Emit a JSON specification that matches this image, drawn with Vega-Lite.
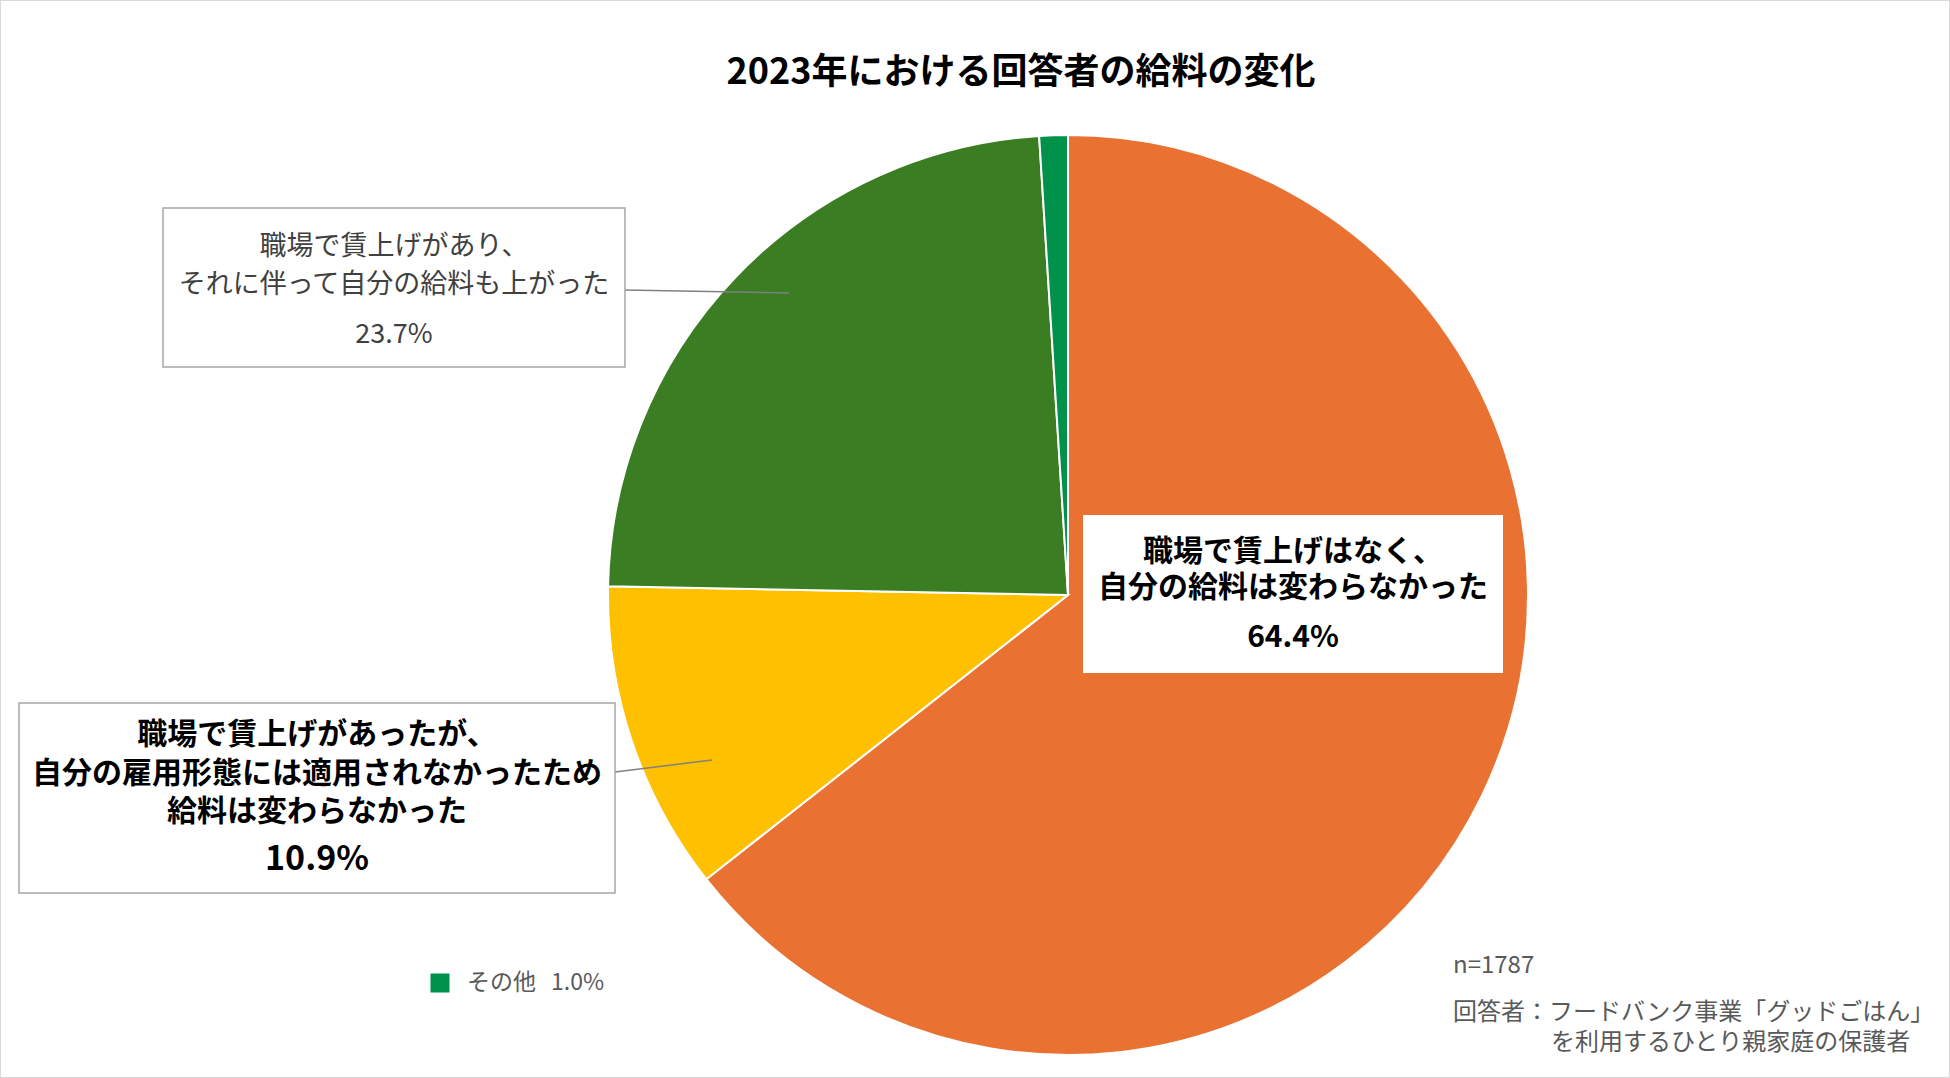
{
  "$schema": "https://vega.github.io/schema/vega-lite/v6.json",
  "width": 1950,
  "height": 1078,
  "autosize": {"type": "none"},
  "padding": 0,
  "background": "white",
  "config": {
    "view": {"stroke": "#d9d9d9", "strokeWidth": 2},
    "text": {"font": "Noto Sans CJK JP", "baseline": "middle"}
  },
  "data": {
    "values": [
      {"answer": "職場で賃上げはなく、\n自分の給料は変わらなかった", "share": 0.644, "order": 1},
      {"answer": "職場で賃上げがあったが、\n自分の雇用形態には適用されなかったため\n給料は変わらなかった", "share": 0.109, "order": 2},
      {"answer": "職場で賃上げがあり、\nそれに伴って自分の給料も上がった", "share": 0.237, "order": 3},
      {"answer": "その他", "share": 0.010, "order": 4}
    ]
  },
  "layer": [
    {
      "mark": {"type": "arc", "outerRadius": 460, "stroke": "white", "strokeWidth": 2},
      "encoding": {
        "theta": {"field": "share", "type": "quantitative", "stack": true},
        "order": {"field": "order", "type": "quantitative"},
        "color": {
          "field": "answer",
          "type": "nominal",
          "legend": null,
          "scale": {
            "domain": [
              "職場で賃上げはなく、\n自分の給料は変わらなかった",
              "職場で賃上げがあったが、\n自分の雇用形態には適用されなかったため\n給料は変わらなかった",
              "職場で賃上げがあり、\nそれに伴って自分の給料も上がった",
              "その他"
            ],
            "range": ["#E97132", "#FFC000", "#3B7D23", "#00914A"]
          }
        },
        "x": {"value": 1068},
        "y": {"value": 595}
      }
    },
    {
      "transform": [{"filter": "datum.order == 1"}],
      "mark": {"type": "rect", "fill": "white"},
      "encoding": {"x": {"value": 1083}, "x2": {"value": 1503}, "y": {"value": 515}, "y2": {"value": 673}}
    },
    {
      "transform": [{"filter": "datum.order == 1"}],
      "mark": {"type": "text", "lineBreak": "\n", "lineHeight": 36, "fontSize": 30, "fontWeight": "bold", "color": "#000000", "align": "center"},
      "encoding": {"text": {"field": "answer"}, "x": {"value": 1293}, "y": {"value": 552}}
    },
    {
      "transform": [{"filter": "datum.order == 1"}],
      "mark": {"type": "text", "fontSize": 30, "fontWeight": "bold", "color": "#000000", "align": "center"},
      "encoding": {"text": {"field": "share", "type": "quantitative", "format": ".1%"}, "x": {"value": 1293}, "y": {"value": 638}}
    },
    {
      "transform": [{"filter": "datum.order == 3"}],
      "mark": {"type": "rule", "color": "#808080", "strokeWidth": 1.5},
      "encoding": {"x": {"value": 625}, "y": {"value": 290}, "x2": {"value": 789}, "y2": {"value": 293}}
    },
    {
      "transform": [{"filter": "datum.order == 3"}],
      "mark": {"type": "rect", "fill": "white", "stroke": "#a6a6a6", "strokeWidth": 1.5},
      "encoding": {"x": {"value": 163}, "x2": {"value": 625}, "y": {"value": 208}, "y2": {"value": 367}}
    },
    {
      "transform": [{"filter": "datum.order == 3"}],
      "mark": {"type": "text", "lineBreak": "\n", "lineHeight": 38, "fontSize": 27, "color": "#404040", "align": "center"},
      "encoding": {"text": {"field": "answer"}, "x": {"value": 394}, "y": {"value": 247}}
    },
    {
      "transform": [{"filter": "datum.order == 3"}],
      "mark": {"type": "text", "fontSize": 27, "color": "#404040", "align": "center"},
      "encoding": {"text": {"field": "share", "type": "quantitative", "format": ".1%"}, "x": {"value": 394}, "y": {"value": 335}}
    },
    {
      "transform": [{"filter": "datum.order == 2"}],
      "mark": {"type": "rule", "color": "#808080", "strokeWidth": 1.5},
      "encoding": {"x": {"value": 615}, "y": {"value": 772}, "x2": {"value": 712}, "y2": {"value": 760}}
    },
    {
      "transform": [{"filter": "datum.order == 2"}],
      "mark": {"type": "rect", "fill": "white", "stroke": "#a6a6a6", "strokeWidth": 1.5},
      "encoding": {"x": {"value": 19}, "x2": {"value": 615}, "y": {"value": 703}, "y2": {"value": 893}}
    },
    {
      "transform": [{"filter": "datum.order == 2"}],
      "mark": {"type": "text", "lineBreak": "\n", "lineHeight": 38.5, "fontSize": 30, "fontWeight": "bold", "color": "#000000", "align": "center"},
      "encoding": {"text": {"field": "answer"}, "x": {"value": 317}, "y": {"value": 735}}
    },
    {
      "transform": [{"filter": "datum.order == 2"}],
      "mark": {"type": "text", "fontSize": 34, "fontWeight": "bold", "color": "#000000", "align": "center"},
      "encoding": {"text": {"field": "share", "type": "quantitative", "format": ".1%"}, "x": {"value": 317}, "y": {"value": 860}}
    },
    {
      "transform": [{"filter": "datum.order == 4"}],
      "mark": {"type": "point", "shape": "square", "filled": true, "opacity": 1, "size": 361},
      "encoding": {"color": {"field": "answer", "type": "nominal", "legend": null}, "x": {"value": 440}, "y": {"value": 983}}
    },
    {
      "transform": [{"filter": "datum.order == 4"}],
      "mark": {"type": "text", "fontSize": 23, "color": "#595959", "align": "left"},
      "encoding": {"text": {"field": "answer"}, "x": {"value": 467}, "y": {"value": 983}}
    },
    {
      "transform": [{"filter": "datum.order == 4"}],
      "mark": {"type": "text", "fontSize": 23, "color": "#595959", "align": "left"},
      "encoding": {"text": {"field": "share", "type": "quantitative", "format": ".1%"}, "x": {"value": 551}, "y": {"value": 983}}
    },
    {
      "data": {"values": [{"title": "2023年における回答者の給料の変化"}]},
      "mark": {"type": "text", "fontSize": 36, "fontWeight": "bold", "color": "#000000", "align": "center"},
      "encoding": {"text": {"field": "title"}, "x": {"value": 1021}, "y": {"value": 73}}
    },
    {
      "data": {"values": [{"note": "n=1787"}]},
      "mark": {"type": "text", "fontSize": 24, "color": "#595959", "align": "left"},
      "encoding": {"text": {"field": "note"}, "x": {"value": 1453}, "y": {"value": 966}}
    },
    {
      "data": {"values": [{"note": "回答者：フードバンク事業「グッドごはん」"}]},
      "mark": {"type": "text", "fontSize": 24, "color": "#595959", "align": "left"},
      "encoding": {"text": {"field": "note"}, "x": {"value": 1453}, "y": {"value": 1013}}
    },
    {
      "data": {"values": [{"note": "を利用するひとり親家庭の保護者"}]},
      "mark": {"type": "text", "fontSize": 24, "color": "#595959", "align": "left"},
      "encoding": {"text": {"field": "note"}, "x": {"value": 1551}, "y": {"value": 1043}}
    }
  ]
}
